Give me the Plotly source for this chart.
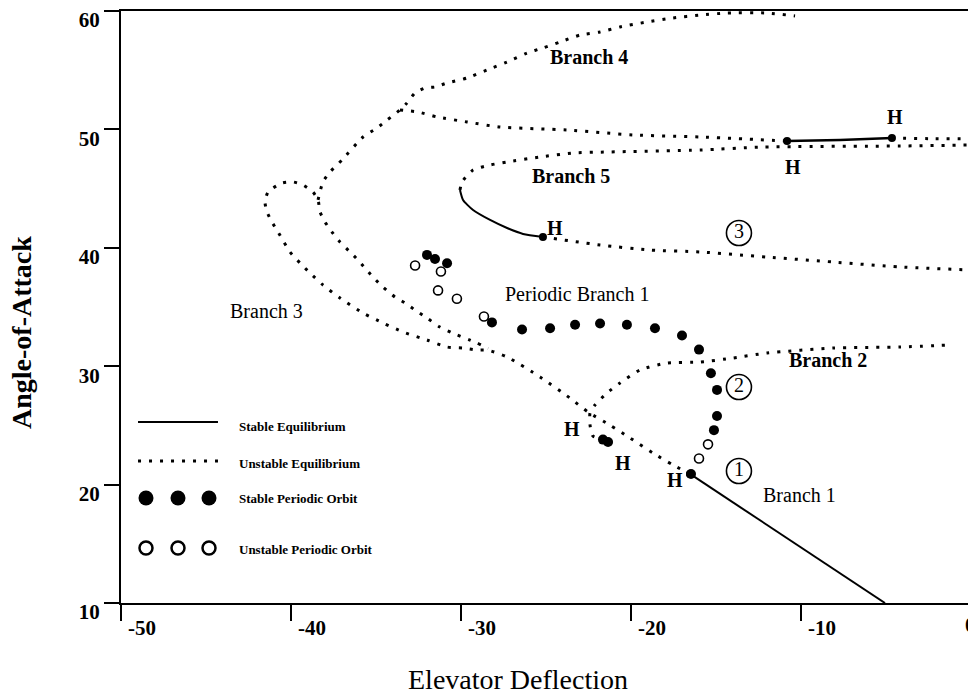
import plotly.graph_objects as go

# ---- equilibrium branches: (elevator deflection, angle of attack) ----
branch1_stable_x = [-5.06, -16.53]
branch1_stable_y = [10.0, 20.9]

# branch 1 unstable part, running up into the branch 3 loop and back down
branch13_x = [-16.53, -17.53, -18.71, -20.06, -21.24, -22.53, -23.59, -25.35, -27.29, -28.4,
              -29.06, -29.88, -30.82, -32.0, -33.41, -34.59, -35.76, -37.12, -38.12, -38.88,
              -39.47, -40.06, -40.76, -41.12, -41.41, -41.53, -41.35, -40.53, -39.88, -39.29,
              -38.71, -38.41, -38.29, -38.0, -37.59, -37.12, -36.53, -36.06, -35.65, -35.18,
              -34.59, -33.88, -33.29, -32.71, -32.0, -31.24, -30.24, -29.47, -29.06, -28.4]
branch13_y = [20.9, 21.66, 22.67, 23.94, 25.03, 26.13, 27.31, 29.09, 30.78, 31.35,
              31.37, 31.54, 31.62, 32.21, 32.89, 33.65, 34.49, 35.76, 36.86, 37.87,
              38.72, 39.65, 41.33, 42.18, 43.02, 43.87, 44.71, 45.47, 45.56, 45.3,
              44.71, 44.04, 43.02, 42.18, 41.33, 40.49, 39.65, 38.97, 38.29, 37.53,
              36.69, 35.84, 35.34, 34.75, 34.07, 33.31, 32.64, 32.21, 31.96, 31.5]

# rising arm from the loop to branch 4
branch4_x = [-38.41, -38.12, -37.71, -37.0, -35.76, -34.94, -34.35, -33.59, -33.18, -32.71,
             -32.12, -31.53, -30.82, -29.65, -28.47, -27.29, -26.12, -25.18, -24.18, -23.0,
             -21.82, -20.65, -19.06, -17.53, -15.94, -14.35, -12.0, -10.35]
branch4_y = [44.04, 45.56, 46.4, 47.42, 49.36, 50.12, 50.79, 51.64, 52.23, 53.07,
             53.5, 53.58, 53.92, 54.34, 55.02, 55.69, 56.45, 56.88, 57.38, 57.97,
             58.23, 58.65, 59.07, 59.41, 59.66, 59.83, 59.83, 59.58]

# lower arm of branch 4 near alpha = 50
branch4_low_x = [-33.59, -32.53, -31.41, -29.65, -27.71, -23.76, -19.88, -15.94, -10.82]
branch4_low_y = [51.64, 51.47, 51.05, 50.63, 50.2, 49.95, 49.53, 49.36, 49.02]
branch4_stable_x = [-10.82, -7.7, -4.65]
branch4_stable_y = [49.02, 49.1, 49.27]
branch4_right_x = [-4.65, -2.5, -0.1]
branch4_right_y = [49.27, 49.22, 49.2]

# branch 5
branch5_upper_x = [-30.06, -29.94, -29.29, -28.29, -27.29, -25.35, -23.41, -21.41, -15.94, -12.24, -4.18, -0.1]
branch5_upper_y = [44.88, 45.56, 46.57, 46.99, 47.25, 47.67, 48.01, 48.09, 48.26, 48.51, 48.6, 48.68]
branch5_stable_x = [-30.06, -29.88, -29.29, -28.29, -27.29, -26.35, -25.18]
branch5_stable_y = [44.88, 44.04, 43.19, 42.35, 41.67, 41.17, 40.91]
branch5_lower_x = [-25.18, -21.82, -18.88, -15.94, -12.0, -8.12, -4.18, -0.1]
branch5_lower_y = [40.91, 40.24, 39.81, 39.65, 39.22, 38.8, 38.38, 38.13]

# branch 2
branch2_x = [-21.53, -22.24, -22.41, -22.41, -22.12, -21.41, -20.65, -19.47, -17.88, -15.94,
             -14.0, -12.0, -8.12, -4.18, -1.24]
branch2_y = [23.77, 24.1, 25.03, 26.05, 26.72, 27.74, 28.58, 29.68, 30.27, 30.35,
             30.69, 31.11, 31.54, 31.62, 31.79]

# ---- periodic branch 1 ----
stable_orbit_x = [-32.0, -31.53, -30.82, -28.18, -26.41, -24.76, -23.29, -21.82, -20.24, -18.59,
                  -17.0, -16.0, -15.3, -14.94, -14.94, -15.12, -16.47, -21.65, -21.35]
stable_orbit_y = [39.4, 39.05, 38.7, 33.7, 33.1, 33.2, 33.5, 33.6, 33.5, 33.2,
                  32.6, 31.4, 29.4, 28.0, 25.8, 24.6, 20.9, 23.8, 23.6]
unstable_orbit_x = [-32.7, -31.18, -31.35, -30.24, -28.65, -15.47, -16.0]
unstable_orbit_y = [38.5, 38.0, 36.4, 35.7, 34.2, 23.4, 22.2]

# Hopf points
hopf_x = [-25.18, -10.82, -4.65, -16.53]
hopf_y = [40.91, 49.02, 49.27, 20.9]

# ---- labels ----
branch_labels = ["Branch 4", "Branch 5", "Periodic Branch 1", "Branch 3", "Branch 2", "Branch 1"]
branch_label_x = [-22.47, -23.53, -23.18, -41.47, -8.41, -10.06]
branch_label_y = [56.11, 46.06, 36.1, 34.66, 30.52, 19.12]
branch_label_bold = [True, True, False, False, True, False]

h_label_x = [-24.47, -4.47, -10.47, -23.47, -20.47, -17.41]
h_label_y = [41.67, 51.05, 46.82, 24.7, 21.82, 20.39]

region_numbers = ["1", "2", "3"]
region_x = [-13.65, -13.65, -13.65]
region_y = [21.15, 28.24, 41.25]

legend_texts = ["Stable Equilibrium", "Unstable Equilibrium", "Stable Periodic Orbit", "Unstable Periodic Orbit"]

x_ticks = [-50, -40, -30, -20, -10]
y_ticks = [10, 20, 30, 40, 50, 60]

SERIF = "Liberation Serif"
DOT = "3px,8px"
fig = go.Figure()


def curve(xs, ys, solid=False, width=None):
    fig.add_trace(go.Scatter(
        x=xs, y=ys, mode="lines",
        line=dict(color="black", width=width or (2 if solid else 3),
                  dash="solid" if solid else DOT, shape="spline", smoothing=0.6),
        hoverinfo="skip", showlegend=False))


curve(branch1_stable_x, branch1_stable_y, solid=True)
curve(branch13_x, branch13_y)
curve(branch4_x, branch4_y)
curve(branch4_low_x, branch4_low_y)
curve(branch4_stable_x, branch4_stable_y, solid=True, width=2.5)
curve(branch4_right_x, branch4_right_y)
curve(branch5_upper_x, branch5_upper_y)
curve(branch5_stable_x, branch5_stable_y, solid=True)
curve(branch5_lower_x, branch5_lower_y)
curve(branch2_x, branch2_y)

fig.add_trace(go.Scatter(x=hopf_x, y=hopf_y, mode="markers",
                         marker=dict(color="black", size=8), showlegend=False, hoverinfo="skip"))
fig.add_trace(go.Scatter(x=stable_orbit_x, y=stable_orbit_y, mode="markers",
                         marker=dict(color="black", size=10), showlegend=False, hoverinfo="skip"))
fig.add_trace(go.Scatter(x=unstable_orbit_x, y=unstable_orbit_y, mode="markers",
                         marker=dict(symbol="circle-open", color="black", size=9,
                                     line=dict(width=1.6, color="black")),
                         showlegend=False, hoverinfo="skip"))

# circled region numbers
fig.add_trace(go.Scatter(x=region_x, y=region_y, mode="markers+text", text=region_numbers,
                         textposition="middle center",
                         textfont=dict(family=SERIF, size=20, color="black"),
                         marker=dict(symbol="circle-open", size=25, color="black",
                                     line=dict(width=1.6, color="black")),
                         showlegend=False, hoverinfo="skip"))

# ---- key in the lower-left corner (drawn on a 0..1 overlay axis pair) ----
key_line_x = [0.0201, 0.1145]
key_solid_y = [0.3057, 0.3057]
key_dot_y = [0.2399, 0.2399]
key_marker_x = [0.0295, 0.0673, 0.1039]
key_filled_y = [0.1774] * 3
key_open_y = [0.0929] * 3
key_text_y = [0.2973, 0.2348, 0.1757, 0.0912]

fig.add_trace(go.Scatter(x=key_line_x, y=key_solid_y, xaxis="x2", yaxis="y2", mode="lines",
                         line=dict(color="black", width=2), showlegend=False, hoverinfo="skip"))
fig.add_trace(go.Scatter(x=key_line_x, y=key_dot_y, xaxis="x2", yaxis="y2", mode="lines",
                         line=dict(color="black", width=3, dash=DOT), showlegend=False, hoverinfo="skip"))
fig.add_trace(go.Scatter(x=key_marker_x, y=key_filled_y, xaxis="x2", yaxis="y2", mode="markers",
                         marker=dict(color="black", size=15), showlegend=False, hoverinfo="skip"))
fig.add_trace(go.Scatter(x=key_marker_x, y=key_open_y, xaxis="x2", yaxis="y2", mode="markers",
                         marker=dict(symbol="circle-open", color="black", size=13,
                                     line=dict(width=2.5, color="black")),
                         showlegend=False, hoverinfo="skip"))

annotations = []
for txt, ty in zip(legend_texts, key_text_y):
    annotations.append(dict(xref="paper", yref="paper", x=0.137, y=ty, text=txt, showarrow=False,
                            xanchor="left", yanchor="middle",
                            font=dict(family=SERIF, size=13, color="black", weight="bold")))

for txt, lx, ly, b in zip(branch_labels, branch_label_x, branch_label_y, branch_label_bold):
    annotations.append(dict(x=lx, y=ly, text=txt, showarrow=False,
                            font=dict(family=SERIF, size=20, color="black",
                                      weight="bold" if b else "normal")))

for lx, ly in zip(h_label_x, h_label_y):
    annotations.append(dict(x=lx, y=ly, text="H", showarrow=False,
                            font=dict(family=SERIF, size=20, color="black", weight="bold")))

# axis titles and the clipped zero label at the right edge
annotations.append(dict(xref="paper", yref="paper", x=0.4687, y=-0.130, text="Elevator Deflection",
                        showarrow=False, xanchor="center", yanchor="middle",
                        font=dict(family=SERIF, size=28, color="black")))
annotations.append(dict(xref="paper", yref="paper", x=-0.1169, y=0.4578, text="Angle-of-Attack",
                        showarrow=False, textangle=-90, xanchor="center", yanchor="middle",
                        font=dict(family=SERIF, size=28, color="black", weight="bold")))
annotations.append(dict(xref="paper", yref="paper", x=0.9941, y=-0.0372, text="0",
                        showarrow=False, xanchor="left", yanchor="middle",
                        font=dict(family=SERIF, size=21, color="black", weight="bold")))

fig.update_layout(
    width=968, height=696,
    margin=dict(l=121, r=0, t=11, b=93),
    paper_bgcolor="white", plot_bgcolor="white",
    showlegend=False,
    annotations=annotations,
    xaxis=dict(range=[-50, -50 + 847 / 17], tickvals=x_ticks, ticktext=[str(v) for v in x_ticks],
               showline=True, linecolor="black", linewidth=2, mirror=True,
               ticks="outside", ticklen=16, tickwidth=1.5, tickcolor="black",
               showgrid=False, zeroline=False, ticklabelshift=21, ticklabelstandoff=-11,
               tickfont=dict(family=SERIF, size=21, color="black", weight="bold")),
    yaxis=dict(range=[10, 60], tickvals=y_ticks,
               showline=True, linecolor="black", linewidth=2, mirror=False,
               ticks="outside", ticklen=15, tickwidth=1.5, tickcolor="black",
               showgrid=False, zeroline=False, ticklabelshift=9,
               tickfont=dict(family=SERIF, size=21, color="black", weight="bold")),
    xaxis2=dict(overlaying="x", range=[0, 1], visible=False),
    yaxis2=dict(overlaying="y", range=[0, 1], visible=False),
)

fig.write_html("out.html")
